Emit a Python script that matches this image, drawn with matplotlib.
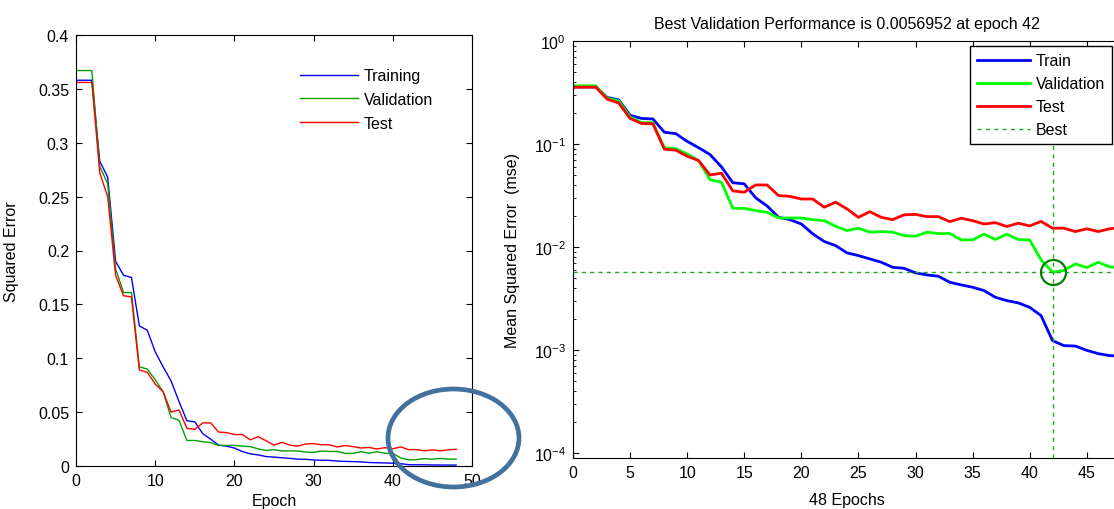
import numpy as np
import matplotlib
matplotlib.use("Agg")
import matplotlib.pyplot as plt
from matplotlib.patches import Ellipse
from matplotlib.ticker import LogLocator, NullFormatter

plt.rcParams['font.family'] = ['Liberation Sans', 'DejaVu Sans']

# error per epoch
epochs = np.arange(49)
train = [0.358, 0.358, 0.358, 0.283, 0.268, 0.190, 0.177, 0.175, 0.130, 0.126,
         0.106, 0.092, 0.079, 0.060, 0.042, 0.041, 0.030, 0.025, 0.0194, 0.0184,
         0.0167, 0.0134, 0.0113, 0.0103, 0.00875, 0.00824, 0.00765, 0.0071, 0.00634, 0.0062,
         0.0056, 0.00535, 0.00519, 0.00454, 0.00428, 0.00406, 0.00377, 0.00324, 0.00301, 0.00286,
         0.00259, 0.00215, 0.00123, 0.0011, 0.00109, 0.00099, 0.00092, 0.00088, 0.00087]
val = [0.367, 0.367, 0.367, 0.278, 0.262, 0.183, 0.161, 0.161, 0.092, 0.090,
       0.080, 0.069, 0.045, 0.0425, 0.0237, 0.0237, 0.0225, 0.0217, 0.0191, 0.0191,
       0.0191, 0.0184, 0.018, 0.0159, 0.0144, 0.0152, 0.0139, 0.0141, 0.0139, 0.0129,
       0.0127, 0.0139, 0.0135, 0.0135, 0.0117, 0.0117, 0.0133, 0.0118, 0.0133, 0.0118,
       0.0117, 0.0075, 0.0056952, 0.0059, 0.00684, 0.0063, 0.0071, 0.0064, 0.0063]
test = [0.356, 0.356, 0.356, 0.272, 0.250, 0.177, 0.158, 0.157, 0.089, 0.087,
        0.076, 0.069, 0.050, 0.052, 0.035, 0.034, 0.040, 0.040, 0.0315, 0.031,
        0.0292, 0.0292, 0.0243, 0.0272, 0.0234, 0.0194, 0.022, 0.0194, 0.0184, 0.0205,
        0.0207, 0.0197, 0.0197, 0.0176, 0.019, 0.018, 0.0167, 0.0172, 0.0158, 0.017,
        0.016, 0.0177, 0.0152, 0.0152, 0.0141, 0.015, 0.0141, 0.015, 0.0155]
best_epoch = 42
best_perf = 0.0056952

fs = 11.5
fig = plt.figure(figsize=(11.14, 5.10), dpi=100)

# ---- left: linear squared error
ax1 = fig.add_axes([76/1114, 1 - 467/510, 396/1114, 431/510])
ax1.plot(epochs, train, color='#0000ff', lw=1.0, label='Training')
ax1.plot(epochs, val, color='#00a000', lw=1.0, label='Validation')
ax1.plot(epochs, test, color='#ff0000', lw=1.0, label='Test')
ax1.set_xlim(0, 50)
ax1.set_ylim(0, 0.4)
ax1.set_xticks(np.arange(0, 51, 10))
ax1.set_yticks(np.arange(0, 0.41, 0.05))
ax1.set_yticklabels(['0', '0.05', '0.1', '0.15', '0.2', '0.25', '0.3', '0.35', '0.4'])
ax1.tick_params(direction='in', top=True, right=True, length=4, labelsize=fs, pad=5)
ax1.set_xlabel('Epoch', fontsize=fs)
ax1.set_ylabel('Squared Error', fontsize=fs)
ax1.xaxis.set_label_coords(0.5, -0.062)
ax1.yaxis.set_label_coords(-0.144, 0.5)
ax1.legend(loc='upper left', bbox_to_anchor=(0.566, 0.923), frameon=False, fontsize=fs,
           handlelength=3.6, handletextpad=0.4, labelspacing=0.55, borderpad=0, borderaxespad=0)

# ---- right: log mse, matlab plotperform style
ax2 = fig.add_axes([573/1114, 1 - 459/510, 548/1114, 417/510])
ax2.semilogy(epochs, train, color='#0000ff', lw=2, label='Train')
ax2.semilogy(epochs, val, color='#00ff00', lw=2, label='Validation')
ax2.semilogy(epochs, test, color='#ff0000', lw=2, label='Test')
ax2.axhline(best_perf, color='#22aa22', lw=1, ls=(0, (3, 3)), label='Best')
ax2.axvline(best_epoch, color='#22aa22', lw=1, ls=(0, (3, 3)))
ax2.plot([best_epoch], [best_perf], 'o', ms=18, mfc='none', mec='#008000', mew=1.6)
ax2.set_xlim(0, 48)
ax2.set_ylim(10 ** -4.05, 1)
ax2.set_xticks(np.arange(0, 46, 5))
ax2.yaxis.set_major_locator(LogLocator(base=10, numticks=10))
ax2.yaxis.set_minor_locator(LogLocator(base=10, subs=np.arange(2, 10), numticks=10))
ax2.yaxis.set_minor_formatter(NullFormatter())
ax2.tick_params(direction='in', top=True, right=True, length=4, labelsize=fs, pad=5)
ax2.tick_params(which='minor', direction='in', right=True, length=2.5)
ax2.set_title('Best Validation Performance is 0.0056952 at epoch 42', fontsize=fs, pad=9)
ax2.set_xlabel('48 Epochs', fontsize=fs)
ax2.set_ylabel('Mean Squared Error  (mse)', fontsize=fs)
ax2.xaxis.set_label_coords(0.5, -0.0815)
ax2.yaxis.set_label_coords(-0.097, 0.5)
leg = ax2.legend(loc='upper left', bbox_to_anchor=(0.7245, 0.988), fontsize=fs, fancybox=False,
                 edgecolor='black', framealpha=1, handlelength=3.3, handletextpad=0.35,
                 labelspacing=0.5, borderaxespad=0, borderpad=0.45)
leg.get_frame().set_linewidth(1.0)

# ---- annotation ring drawn over the picture
ov = fig.add_axes([0, 0, 1, 1])
ov.set_xlim(0, 1114)
ov.set_ylim(510, 0)
ov.axis('off')
ov.add_patch(Ellipse((453.5, 439), 131, 98, fill=False, edgecolor='#41719c', lw=3.4))

fig.savefig('out.png', dpi=100)
